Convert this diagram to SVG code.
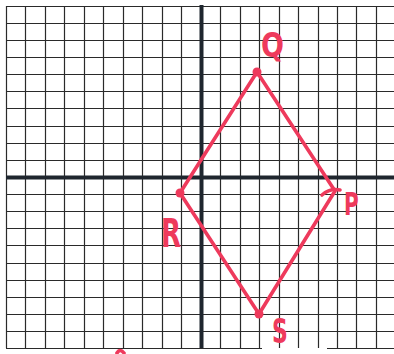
<svg xmlns="http://www.w3.org/2000/svg" width="394" height="354" viewBox="0 0 394 354">
<style>
.g{stroke:#2a2a2a;stroke-width:1.2;fill:none}
.ax{stroke:#1f262e;stroke-width:4;fill:none}
.red{stroke:#ee3a5c;stroke-width:3.6;fill:none;stroke-linecap:round;stroke-linejoin:round}
.dot{fill:#ee3a5c}
.lbl{fill:#ee3a5c;font-family:"DejaVu Sans",sans-serif;font-weight:bold}
</style>
<rect width="394" height="354" fill="#ffffff"/>
<g id="grid">
<path class="g" d="M6.5,6V348M25.5,6V348M45.5,6V348M64.5,6V348M84.5,6V348M103.5,6V348M123.5,6V348M142.5,6V348M162.5,6V348M181.5,6V348M220.5,6V348M240.5,6V348M259.5,6V348M279.5,6V348M298.5,6V348M318.5,6V348M337.5,6V348M356.5,6V348M376.5,6V348"/>
<path class="g" d="M6,6.5H394M6,23.5H394M6,40.5H394M6,57.5H394M6,74.5H394M6,91.5H394M6,108.5H394M6,126.5H394M6,143.5H394M6,160.5H394M6,194.5H394M6,211.5H394M6,228.5H394M6,245.5H394M6,263.5H394M6,280.5H394M6,297.5H394M6,314.5H394M6,331.5H394M6,348.5H262M327,348.5H394"/>
</g>
<g id="axes">
<path class="ax" d="M6,177.5H394"/>
<path class="ax" d="M201.5,5V348"/>
</g>
<g id="rhombus">
<path class="red" d="M257,72L335,191L259,314L180,193Z"/>
<circle id="Q" class="dot" cx="257" cy="72" r="4.5"/>
<circle id="R" class="dot" cx="180" cy="193" r="4.5"/>
<circle id="S" class="dot" cx="259" cy="314" r="4.5"/>
<path class="red" d="M322,195Q330,188 340,190"/>
<path class="red" stroke-width="3" d="M117,353Q120,348 124,353"/>
</g>
<g id="labels">
<text class="lbl" font-size="27" transform="translate(261,57) scale(1,1.25)">Q</text>
<text class="lbl" font-size="26" transform="translate(161,247) scale(1,1.5)">R</text>
<text class="lbl" font-size="20" transform="translate(344,215) scale(1,1.6)">P</text>
<text class="lbl" font-size="22" transform="translate(272,343) scale(1,1.5)">S</text>
</g>
</svg>
